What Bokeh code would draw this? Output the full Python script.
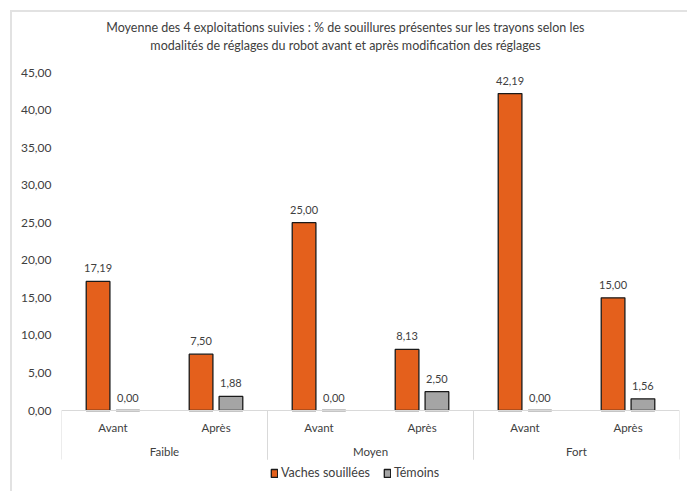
from bokeh.plotting import figure
from bokeh.models import (ColumnDataSource, FactorRange, FixedTicker, Legend, LegendItem,
                          Span, Range1d)
from bokeh.core.properties import value
from bokeh.transform import dodge
from bokeh.embed import file_html
from bokeh.resources import INLINE

groups = ["Faible", "Moyen", "Fort"]
periods = ["Avant", "Après"]
vaches = [17.19, 7.50, 25.00, 8.13, 42.19, 15.00]
temoins = [0.00, 1.88, 0.00, 2.50, 0.00, 1.56]
y_ticks = [0, 5, 10, 15, 20, 25, 30, 35, 40, 45]
y_tick_labels = ["0,00", "5,00", "10,00", "15,00", "20,00", "25,00", "30,00", "35,00", "40,00", "45,00"]
series_names = ["Vaches souillées", "Témoins"]
title_lines = ["Moyenne des 4 exploitations suivies : % de souillures présentes sur les trayons selon les",
               "modalités de réglages du robot avant et après modification des réglages"]

FONT = "Lato"
TXT = "#404040"
ORANGE = "#E4601C"
GREY = "#A5A5A5"
EDGE = "#1a1a1a"
FRAME_LINE = "#E2E2E2"

# layout (pixels)
W, H = 687, 491
B_LEFT, B_RIGHT, B_TOP, B_BOTTOM = 61, 8, 14, 4
PLOT_PX = 338            # height of 0..45
BOT_PX = 77
TOP_PX = H - B_TOP - B_BOTTOM - PLOT_PX - BOT_PX
YMAX = y_ticks[-1]
ppu = PLOT_PX / YMAX

factors = [(g, p_) for g in groups for p_ in periods]
fmt = lambda v: f"{v:.2f}".replace(".", ",")
src = ColumnDataSource(dict(x=factors, vaches=vaches, temoins=temoins,
                            lv=[fmt(v) for v in vaches], lt=[fmt(v) for v in temoins],
                            sub=[f[1] for f in factors]))

p = figure(x_range=FactorRange(*factors, group_padding=0, factor_padding=0, range_padding=0),
           y_range=Range1d(-BOT_PX / ppu, YMAX + TOP_PX / ppu), width=W, height=H,
           output_backend="svg", toolbar_location=None,
           min_border_left=B_LEFT, min_border_right=B_RIGHT, min_border_top=B_TOP,
           min_border_bottom=B_BOTTOM, title=None)
p.outline_line_color = None
p.grid.grid_line_color = None
p.xaxis.visible = False
p.border_fill_color = None
p.background_fill_color = None
p.styles = {
    "background": (f"linear-gradient({FRAME_LINE},{FRAME_LINE}) 10px 10px / 2px 100% no-repeat, "
                   f"linear-gradient({FRAME_LINE},{FRAME_LINE}) 10px 10px / 100% 2px no-repeat, "
                   "white"),
}

# title
tsrc = ColumnDataSource(dict(x=["Moyen", "Moyen"], y=[YMAX, YMAX], t=title_lines, off=[-45, -27]))
p.text(x="x", y="y", text="t", y_offset="off", x_offset=-25, source=tsrc,
       text_align="center", text_baseline="middle", text_font_size="12.5px",
       text_font=value(FONT), text_color=TXT)

# axis line at 0
p.add_layout(Span(location=0, dimension="width", line_color="#D9D9D9", line_width=1))

# bars
r1 = p.vbar(x=dodge("x", -0.145, range=p.x_range), top="vaches", width=0.23, source=src,
            fill_color=ORANGE, line_color=EDGE, line_width=1.3)
r2 = p.vbar(x=dodge("x", 0.145, range=p.x_range), top="temoins", width=0.23, source=src,
            fill_color=GREY, line_color=EDGE, line_width=1.3)

# data labels
p.text(x=dodge("x", -0.145, range=p.x_range), y="vaches", text="lv", source=src,
       text_align="center", text_baseline="bottom", y_offset=-9,
       text_font_size="11px", text_font=value(FONT), text_color=TXT)
p.text(x=dodge("x", 0.145, range=p.x_range), y="temoins", text="lt", source=src,
       text_align="center", text_baseline="bottom", y_offset=-9,
       text_font_size="11px", text_font=value(FONT), text_color=TXT)

# category labels (drawn through the categorical scale)
p.text(x="x", y=0, text="sub", source=src, y_offset=17, text_align="center",
       text_baseline="middle", text_font_size="11.5px", text_font=value(FONT), text_color=TXT)
gsrc = ColumnDataSource(dict(g=groups, first=[(g, periods[0]) for g in groups],
                             last=[(g, periods[-1]) for g in groups]))
p.text(x="g", y=0, text="g", source=gsrc, y_offset=41, text_align="center",
       text_baseline="middle", text_font_size="11.5px", text_font=value(FONT), text_color=TXT)

# separators
sep_len = 49 / ppu
p.segment(x0=dodge("first", -0.5, range=p.x_range), x1=dodge("first", -0.5, range=p.x_range),
          y0=0, y1=-sep_len, source=gsrc, line_color="#D9D9D9", line_width=1)
p.segment(x0=dodge("last", 0.5, range=p.x_range), x1=dodge("last", 0.5, range=p.x_range),
          y0=0, y1=-sep_len, source=gsrc, line_color="#D9D9D9", line_width=1)

# y axis
p.yaxis.ticker = FixedTicker(ticks=y_ticks)
p.yaxis.major_label_overrides = {t: l for t, l in zip(y_ticks, y_tick_labels)}
p.yaxis.axis_line_color = None
p.yaxis.major_tick_line_color = None
p.yaxis.minor_tick_line_color = None
p.yaxis.major_tick_out = 0
p.yaxis.major_tick_in = 0
p.yaxis.major_label_text_font = FONT
p.yaxis.major_label_text_font_size = "12px"
p.yaxis.major_label_text_color = TXT
p.yaxis.major_label_standoff = 10
p.yaxis.axis_label = " "
p.yaxis.axis_label_text_font_size = "1px"
p.yaxis.axis_label_standoff = 8

# legend
legend = Legend(items=[LegendItem(label=series_names[0], renderers=[r1]),
                       LegendItem(label=series_names[1], renderers=[r2])],
                orientation="horizontal", location=(209, 7),
                label_text_font=FONT, label_text_font_size="12.5px", label_text_color=TXT,
                glyph_width=8, glyph_height=10, label_standoff=3, spacing=13,
                border_line_color=None, background_fill_alpha=0, padding=0, margin=0)
p.add_layout(legend)

open("out.html", "w").write(file_html(p, INLINE))
